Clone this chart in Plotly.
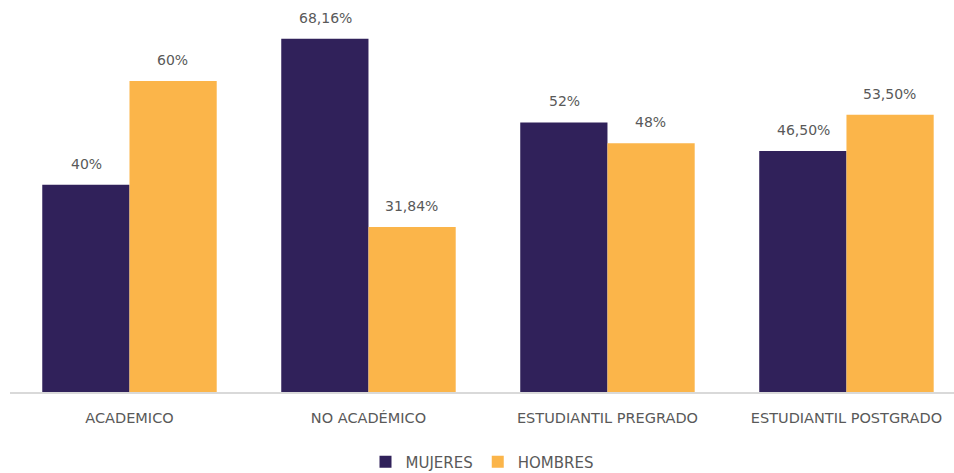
import plotly.graph_objects as go

categories = ["ACADEMICO", "NO ACADÉMICO", "ESTUDIANTIL PREGRADO", "ESTUDIANTIL POSTGRADO"]
mujeres = [40, 68.16, 52, 46.5]
hombres = [60, 31.84, 48, 53.5]
mujeres_labels = ["40%", "68,16%", "52%", "46,50%"]
hombres_labels = ["60%", "31,84%", "48%", "53,50%"]

PURPLE = "#30215A"
ORANGE = "#FBB54A"
GRAY = "#595959"
FONT = "DejaVu Sans"

fig = go.Figure()
fig.add_trace(go.Bar(x=categories, y=mujeres, name="MUJERES", marker=dict(color=PURPLE, line=dict(width=0))))
fig.add_trace(go.Bar(x=categories, y=hombres, name="HOMBRES", marker=dict(color=ORANGE, line=dict(width=0))))

for i, c in enumerate(categories):
    fig.add_annotation(x=c, y=mujeres[i], text=mujeres_labels[i], xshift=-43, yshift=21,
                       showarrow=False, font=dict(size=14, color=GRAY, family=FONT))
    fig.add_annotation(x=c, y=hombres[i], text=hombres_labels[i], xshift=43, yshift=21,
                       showarrow=False, font=dict(size=14, color=GRAY, family=FONT))

fig.update_layout(
    width=954, height=473,
    margin=dict(l=10, r=0, t=10, b=81, autoexpand=False),
    paper_bgcolor="white", plot_bgcolor="white",
    barmode="group", bargap=0.27, bargroupgap=0,
    font=dict(family=FONT, size=14, color=GRAY),
    showlegend=True,
    legend=dict(orientation="h", x=0.5, xanchor="center", y=-0.183, yanchor="middle",
                font=dict(size=15, color=GRAY, family=FONT), traceorder="normal"),
    xaxis=dict(type="category", range=[-0.5, 3.45], showline=True, linecolor="#D9D9D9", linewidth=1.5,
               ticks="", tickfont=dict(size=14.5, color=GRAY, family=FONT), ticklabelstandoff=12,
               showgrid=False, zeroline=False),
    yaxis=dict(range=[0, 73.7], visible=False, showgrid=False, zeroline=False),
)

fig.write_html("out.html", config={"displayModeBar": False},
               post_script="document.body.style.margin='0';document.body.style.overflow='hidden';")
